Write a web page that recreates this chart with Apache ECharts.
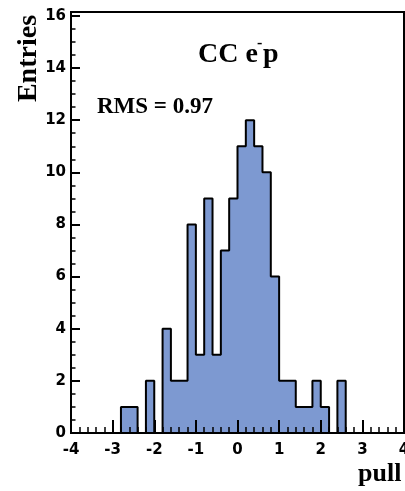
<!DOCTYPE html>
<html>
<head>
<meta charset="utf-8">
<script src="https://cdn.jsdelivr.net/npm/echarts@6/dist/echarts.min.js"></script>
<style>html,body{margin:0;padding:0;background:#fff}#c{width:405px;height:491px}</style>
</head>
<body>
<div id="c"></div>
<script>
// Bin lower edges (width 0.2)
const binLow = [-4.0,-3.8,-3.6,-3.4,-3.2,-3.0,-2.8,-2.6,-2.4,-2.2,-2.0,-1.8,-1.6,-1.4,-1.2,-1.0,-0.8,-0.6,-0.4,-0.2,
                0.0,0.2,0.4,0.6,0.8,1.0,1.2,1.4,1.6,1.8,2.0,2.2,2.4,2.6,2.8,3.0,3.2,3.4,3.6,3.8];
const binHigh = 4.0;
// Entries per bin
const counts = [0,0,0,0,0,0,1,1,0,2,0,4,2,2,8,3,9,3,7,9,
                11,12,11,10,6,2,2,1,1,2,1,0,2,0,0,0,0,0,0,0];
const xTicks = [-4,-3,-2,-1,0,1,2,3,4];
const yTicks = [0,2,4,6,8,10,12,14,16];
const titleText = 'CC e';
const titleSup = '-';
const titleEnd = 'p';
const rmsText = 'RMS = 0.97';
const yName = 'Entries';
const xName = 'pull';

const histData = binLow.map((x, i) => [x, counts[i]]);
histData.push([binHigh, counts[counts.length - 1]]);

const chart = echarts.init(document.getElementById('c'), null, {renderer: 'canvas'});
const tickFont = {fontFamily: 'DejaVu Sans', fontWeight: 'bold', fontSize: 15, color: '#000'};
const serif = 'bold {s}px "Liberation Serif", "Times New Roman", serif';
const f = s => serif.replace('{s}', s);

chart.setOption({
  animation: false,
  backgroundColor: '#fff',
  grid: {left: 71, right: 1, top: 12, bottom: 58, show: true, borderColor: '#000', borderWidth: 2,
         backgroundColor: 'transparent', containLabel: false, outerBoundsMode: 'none'},
  xAxis: {
    type: 'value', min: xTicks[0], max: xTicks[xTicks.length - 1], interval: 1, z: 10,
    axisLine: {show: true, onZero: false, lineStyle: {color: '#000', width: 2}},
    axisTick: {show: true, inside: true, length: 13, lineStyle: {color: '#000', width: 2}},
    minorTick: {show: true, splitNumber: 5, length: 6, lineStyle: {color: '#000', width: 1.5}},
    splitLine: {show: false},
    axisLabel: Object.assign({margin: 10, hideOverlap: false, showMinLabel: true, showMaxLabel: true,
      formatter: v => xTicks.includes(Math.round(v)) && Math.abs(v - Math.round(v)) < 1e-6 ? String(Math.round(v)) : ''}, tickFont)
  },
  yAxis: {
    type: 'value', min: 0, max: 16.15, interval: 2, z: 10,
    axisLine: {show: true, onZero: false, lineStyle: {color: '#000', width: 2}},
    axisTick: {show: true, inside: true, length: 9, lineStyle: {color: '#000', width: 2}},
    minorTick: {show: true, splitNumber: 4, length: 4.5, lineStyle: {color: '#000', width: 1.5}},
    splitLine: {show: false},
    axisLabel: Object.assign({margin: 5, hideOverlap: false,
      formatter: v => (Math.abs(v - Math.round(v)) < 1e-6 && yTicks.includes(Math.round(v))) ? String(Math.round(v)) : ''}, tickFont)
  },
  series: [{
    type: 'line', step: 'end', data: histData, symbol: 'none', z: 2,
    lineStyle: {color: '#000', width: 2},
    areaStyle: {color: '#7d99d1', opacity: 1}
  }],
  graphic: [
    {type: 'text', x: 28.5, y: 58.5, rotation: Math.PI / 2, z: 20,
     style: {text: yName, font: f(28), fill: '#000', align: 'center', verticalAlign: 'middle'}},
    {type: 'text', x: 198, y: 55, z: 20,
     style: {text: titleText, font: f(28), fill: '#000', align: 'left', verticalAlign: 'middle'}},
    {type: 'text', x: 257, y: 44, z: 20,
     style: {text: titleSup, font: f(16), fill: '#000', align: 'left', verticalAlign: 'middle'}},
    {type: 'text', x: 263, y: 55, z: 20,
     style: {text: titleEnd, font: f(28), fill: '#000', align: 'left', verticalAlign: 'middle'}},
    {type: 'text', x: 97, y: 107, z: 20,
     style: {text: rmsText, font: f(23), fill: '#000', align: 'left', verticalAlign: 'middle'}},
    {type: 'text', x: 358, y: 474, z: 20,
     style: {text: xName, font: f(26), fill: '#000', align: 'left', verticalAlign: 'middle'}}
  ]
});
</script>
</body>
</html>
